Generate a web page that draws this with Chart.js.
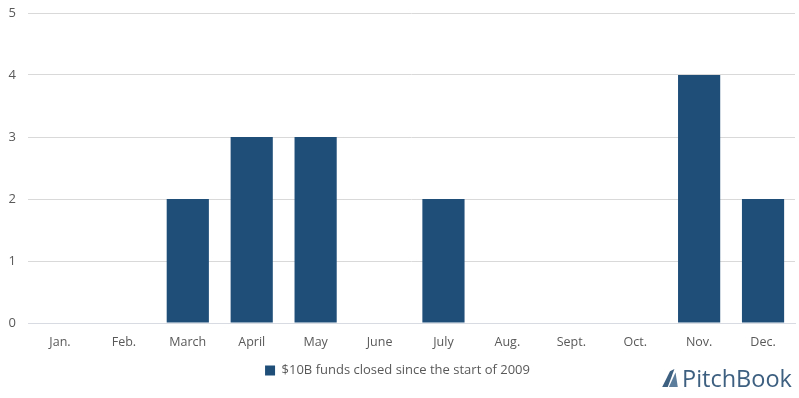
<!DOCTYPE html>
<html>
<head>
<meta charset="utf-8">
<script src="https://cdn.jsdelivr.net/npm/chart.js@4"></script>
<style>
  html, body { margin: 0; padding: 0; background: #fff; }
  #wrap { position: relative; width: 799px; height: 398px; }
  #logo { position: absolute; left: 660px; top: 362px; font-family: "Open Sans", sans-serif; font-size: 23.5px; color: #3d5f80; display: flex; align-items: center; }
  #logo svg { margin-right: 2px; }
</style>
</head>
<body>
<div id="wrap">
  <canvas id="grafica" width="799" height="398"></canvas>
  <div id="logo"><svg width="20" height="20" viewBox="0 0 16 18"><path d="M1 17 L8 3 L12 1 L6 17 Z" fill="#3d5f80"/><path d="M7 17 L13 4 L15 17 Z" fill="#5c7d9c"/></svg>PitchBook</div>
</div>
<script>
// datos del grafico
const meses = ['Jan.', 'Feb.', 'March', 'April', 'May', 'June', 'July', 'Aug.', 'Sept.', 'Oct.', 'Nov.', 'Dec.'];
const fondosCerrados = [0, 0, 2, 3, 3, 0, 2, 0, 0, 0, 4, 2];
const nombreSerie = '$10B funds closed since the start of 2009';
const ticksY = [0, 1, 2, 3, 4, 5];

const colorBarra = '#1F4E79';
const colorTexto = '#595959';

const ctx = document.getElementById('grafica').getContext('2d');
new Chart(ctx, {
    type: 'bar',
    data: {
        labels: meses,
        datasets: [{ label: nombreSerie, data: fondosCerrados, backgroundColor: colorBarra, categoryPercentage: 1, barPercentage: 0.66 }]
    },
    options: {
        responsive: false,
        animation: false,
        layout: { padding: { top: 13, right: 4, left: 0, bottom: 11 } },
        scales: {
            x: {
                grid: { display: false },
                border: { color: '#d9dbe3', width: 1 },
                ticks: { color: colorTexto, font: { family: 'Open Sans', size: 12.5 }, padding: 4 },
                afterFit: (s) => { s.height = 33; }
            },
            y: {
                min: 0, max: 5,
                afterBuildTicks: (s) => { s.ticks = ticksY.map(v => ({ value: v })); },
                grid: { color: '#d9d9d9', drawTicks: false },
                border: { display: false },
                ticks: { color: colorTexto, font: { family: 'Open Sans', size: 13 }, padding: 12 },
                afterFit: (s) => { s.width = 28; s.paddingTop = 0; s.paddingBottom = 0; }
            }
        },
        plugins: {
            legend: {
                position: 'bottom',
                labels: { color: colorTexto, font: { family: 'Open Sans', size: 13 }, boxWidth: 10, boxHeight: 10, padding: 8 }
            },
            tooltip: { enabled: false }
        }
    }
});
</script>
</body>
</html>
